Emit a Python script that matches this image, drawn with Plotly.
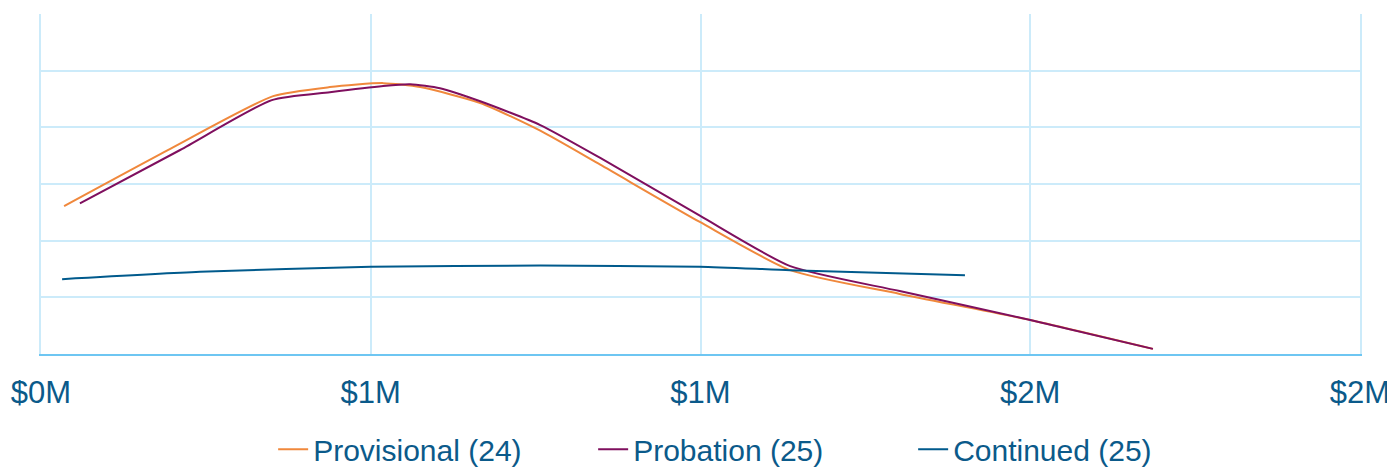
import plotly.graph_objects as go

# ---- data ----
prov_x = [35000, 196000, 352000, 438000, 519000, 575000, 666000,
          757000, 848000, 999000, 1136000, 1302000, 1500000, 1686000]
prov_y = [2.61, 3.62, 4.55, 4.71, 4.78, 4.71, 4.43,
          3.94, 3.34, 2.33, 1.48, 1.06, 0.60, 0.09]

prob_x = [59000, 211000, 350000, 438000, 519000, 560000, 605000,
          666000, 757000, 848000, 999000, 1136000, 1302000, 1500000, 1686000]
prob_y = [2.66, 3.60, 4.48, 4.62, 4.73, 4.76, 4.69,
          4.46, 4.04, 3.46, 2.44, 1.55, 1.11, 0.60, 0.09]

cont_x = [32000, 241000, 500000, 757000, 999000, 1136000, 1401000]
cont_y = [1.32, 1.45, 1.54, 1.56, 1.54, 1.48, 1.39]

series_names = ["Provisional (24)", "Probation (25)", "Continued (25)"]
series_colors = ["#F0883C", "#7F0F5E", "#005A8C"]

x_tick_vals = [0, 500000, 1000000, 1500000, 2000000]
x_tick_text = ["$0M", "$1M", "$1M", "$2M", "$2M"]
y_tick_vals = [0, 1, 2, 3, 4, 5, 6]

text_color = "#0B5A8A"
grid_color = "#CCEBFA"
axis_color = "#6EC6F2"

fig = go.Figure()
for xs, ys, name, col in zip([prov_x, prob_x, cont_x], [prov_y, prob_y, cont_y],
                             series_names, series_colors):
    fig.add_trace(go.Scatter(x=xs, y=ys, name=name, mode="lines",
                             line=dict(color=col, width=2, shape="spline", smoothing=0.6)))

# page body has an 8px margin, so the figure is 8px smaller on each axis
fig.update_layout(
    width=1387, height=459,
    margin=dict(l=33, r=35, t=6, b=113, autoexpand=False),
    paper_bgcolor="white", plot_bgcolor="white",
    font=dict(family="Liberation Sans, Arial, sans-serif", color=text_color),
    showlegend=True,
    legend=dict(orientation="h", x=0.176, xanchor="left", y=-0.28, yanchor="middle",
                font=dict(size=30, color=text_color), itemwidth=30,
                entrywidth=275, entrywidthmode="pixels",
                traceorder="normal"),
)
fig.update_xaxes(range=[0, 2000000], tickvals=x_tick_vals, ticktext=x_tick_text,
                 showgrid=True, gridcolor=grid_color, gridwidth=2,
                 showline=True, linecolor=axis_color, linewidth=2,
                 tickfont=dict(size=31, color=text_color), ticks="", zeroline=False,
                 ticklabelstandoff=10, mirror=False)
fig.update_yaxes(range=[0, 6], tickvals=y_tick_vals, showticklabels=False,
                 showgrid=True, gridcolor=grid_color, gridwidth=2,
                 showline=True, linecolor=grid_color, linewidth=2, mirror=True,
                 zeroline=False, ticks="")

fig.write_html("out.html")
